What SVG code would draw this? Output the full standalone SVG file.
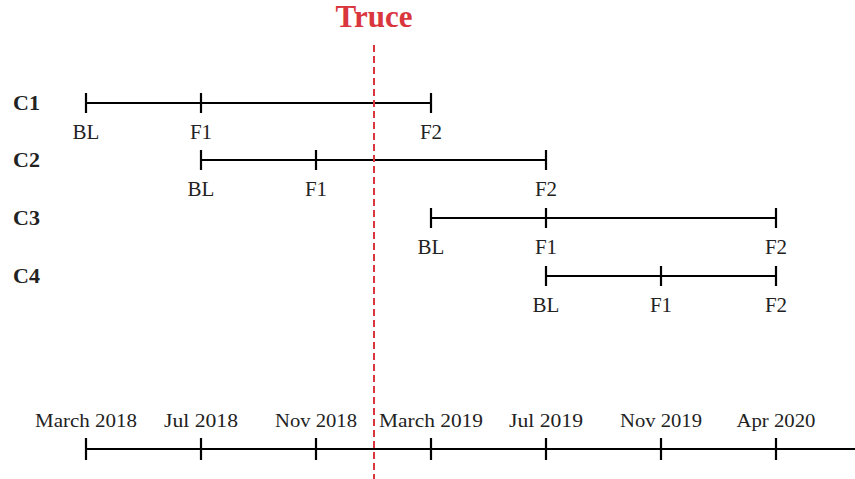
<svg xmlns="http://www.w3.org/2000/svg" width="855" height="479" viewBox="0 0 855 479">
<style>
.ln{stroke:#000;stroke-width:2.2;fill:none}
.lab{font-family:"Liberation Serif",serif;font-size:21px;fill:#222;text-anchor:middle}
.ax{font-family:"Liberation Serif",serif;font-size:19px;fill:#222;text-anchor:middle}
.row{font-family:"Liberation Serif",serif;font-size:22px;font-weight:bold;fill:#222}
</style>
<rect width="855" height="479" fill="#fff"/>
<g id="connectors">
<g id="c1-line"><path class="ln" d="M86 103H431M86 93V113M201 93V113M431 93V113"/></g>
<g id="c2-line"><path class="ln" d="M201 160H546M201 150V170M316 150V170M546 150V170"/></g>
<g id="c3-line"><path class="ln" d="M431 218H776M431 208V228M546 208V228M776 208V228"/></g>
<g id="c4-line"><path class="ln" d="M546 276H776M546 266V286M661 266V286M776 266V286"/></g>
<g id="axis"><path class="ln" d="M86 449H855M86 438V460M201 438V460M316 438V460M431 438V460M546 438V460M661 438V460M776 438V460"/></g>
</g>
<g id="C1"><text class="row" x="13" y="110">C1</text>
<text class="lab" x="86" y="139">BL</text><text class="lab" x="201" y="139">F1</text><text class="lab" x="431" y="139">F2</text></g>
<g id="C2"><text class="row" x="13" y="167">C2</text>
<text class="lab" x="201" y="196">BL</text><text class="lab" x="316" y="196">F1</text><text class="lab" x="546" y="196">F2</text></g>
<g id="C3"><text class="row" x="13" y="225">C3</text>
<text class="lab" x="431" y="254">BL</text><text class="lab" x="546" y="254">F1</text><text class="lab" x="776" y="254">F2</text></g>
<g id="C4"><text class="row" x="13" y="283">C4</text>
<text class="lab" x="546" y="312">BL</text><text class="lab" x="661" y="312">F1</text><text class="lab" x="776" y="312">F2</text></g>
<g id="axis-labels">
<text class="ax" x="86" y="427" textLength="102" lengthAdjust="spacingAndGlyphs">March 2018</text>
<text class="ax" x="201" y="427" textLength="74" lengthAdjust="spacingAndGlyphs">Jul 2018</text>
<text class="ax" x="316" y="427" textLength="82" lengthAdjust="spacingAndGlyphs">Nov 2018</text>
<text class="ax" x="431" y="427" textLength="104" lengthAdjust="spacingAndGlyphs">March 2019</text>
<text class="ax" x="546" y="427" textLength="74" lengthAdjust="spacingAndGlyphs">Jul 2019</text>
<text class="ax" x="661" y="427" textLength="82" lengthAdjust="spacingAndGlyphs">Nov 2019</text>
<text class="ax" x="776" y="427" textLength="79" lengthAdjust="spacingAndGlyphs">Apr 2020</text>
</g>
<g id="truce">
<line x1="374" y1="45" x2="374" y2="479" stroke="#d9363e" stroke-width="2" stroke-dasharray="7,4"/>
<text x="374" y="27" font-family="Liberation Serif,serif" font-size="31" font-weight="bold" fill="#d9363e" text-anchor="middle">Truce</text>
</g>
</svg>
